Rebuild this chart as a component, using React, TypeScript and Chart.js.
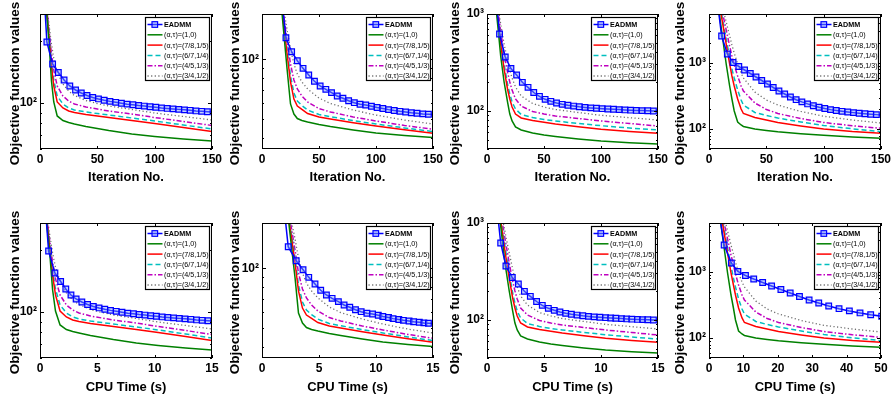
import React, { useEffect, useRef } from "react";
import { Chart, registerables } from "chart.js";

Chart.register(...registerables);

const FONT = "'Liberation Sans', Arial, Helvetica, sans-serif";
Chart.defaults.font.family = FONT;

// ---------------- data ----------------
// EADMM iteration grid (marker positions)
const ITER_E = [1, 6, 11, 16, 21, 26, 31, 36, 41, 46, 51, 56, 61, 66, 71, 76, 81, 86, 91, 96, 101, 106, 111, 116, 121, 126, 131, 136, 141, 146, 150];

// Column A
const A_ITER = [3, 6, 8, 10, 12, 15, 20, 25, 30, 40, 50, 60, 80, 100, 125, 150];
const A_TIME = [0.3, 0.6, 0.85, 1.1, 1.35, 1.75, 2.3, 2.85, 3.4, 4.4, 5.4, 6.4, 8.4, 10.3, 12.7, 15.0];
const A_TIME_E = [0.1, 0.75, 1.3, 1.8, 2.25, 2.7, 3.15, 3.65, 4.15, 4.65, 5.15, 5.65, 6.15, 6.65, 7.15, 7.65, 8.15, 8.65, 9.15, 9.65, 10.15, 10.65, 11.15, 11.65, 12.15, 12.65, 13.15, 13.65, 14.15, 14.65, 15.0];
const A_EADMM = [600, 197.6, 154.7, 140.7, 129.4, 121.1, 115.8, 112.0, 108.9, 106.5, 104.8, 103.3, 102.0, 100.9, 99.9, 98.9, 98.2, 97.4, 96.8, 96.1, 95.5, 94.8, 94.3, 93.8, 93.3, 92.8, 92.3, 91.7, 91.3, 90.9, 90.6];
const A_G = [471, 264, 193, 128, 101.3, 86.7, 82.4, 80.6, 79.3, 77.1, 75.4, 73.7, 70.9, 69.0, 67.1, 65.6];
const A_R = [471, 270, 204, 151, 121.1, 101.3, 94.8, 91.6, 90.1, 88.1, 86.7, 85.2, 82.4, 79.7, 76.3, 72.9];
const A_C = [471, 276, 211, 158, 129.4, 108.3, 99.1, 94.8, 92.7, 90.6, 89.1, 87.6, 84.8, 82.0, 78.4, 75.0];
const A_M = [471, 285, 221, 173, 145, 121.1, 108.3, 102.4, 99.1, 95.8, 93.7, 91.6, 88.6, 85.2, 81.5, 78.0];
const A_K = [471, 295, 236, 193, 165, 141.5, 123.8, 114.5, 108.9, 103.0, 99.6, 96.9, 93.2, 89.6, 86.2, 82.9];

// Column B
const B_ITER = [15, 18, 20, 22, 25, 28, 31, 35, 40, 50, 60, 80, 100, 125, 150];
const B_TIME = [2.0, 2.4, 2.65, 2.9, 3.2, 3.55, 3.9, 4.35, 4.9, 5.9, 6.9, 8.8, 10.6, 12.8, 15.0];
const B_TIME_E = [0.1, 0.7, 1.3, 1.8, 2.3, 3.0, 3.6, 4.1, 4.65, 5.15, 5.65, 6.15, 6.7, 7.2, 7.7, 8.2, 8.7, 9.2, 9.7, 10.2, 10.6, 11.1, 11.5, 12.0, 12.4, 12.9, 13.3, 13.8, 14.2, 14.6, 15.0];
const B_EADMM = [1000, 800, 500, 241.5, 128.8, 109.3, 98.4, 90.0, 83.2, 77.4, 73.2, 70.4, 67.7, 65.1, 63.4, 61.6, 60.2, 59.1, 58.6, 57.7, 56.9, 56.2, 55.5, 54.9, 54.4, 54.0, 53.5, 53.2, 52.8, 52.6, 52.4];
const B_G = [271.5, 160.3, 119.6, 89.3, 59.3, 52.7, 50.0, 48.9, 48.0, 46.6, 45.5, 43.7, 42.2, 41.0, 40.0];
const B_R = [271.5, 170, 134.5, 106.4, 76.7, 62.8, 57.9, 55.6, 53.0, 50.9, 49.7, 47.6, 45.8, 43.9, 42.1];
const B_C = [271.5, 176.1, 141.0, 112.8, 82.3, 67.4, 61.4, 58.2, 55.2, 52.4, 51.1, 48.8, 46.9, 44.8, 42.9];
const B_M = [271.5, 186.7, 151.2, 123.9, 94.7, 78.5, 70.7, 65.1, 60.7, 56.2, 54.0, 50.9, 48.6, 46.1, 44.1];
const B_K = [271.5, 195.6, 166.1, 141.0, 112.8, 94.7, 84.2, 76.7, 70.7, 63.6, 59.6, 55.2, 52.1, 49.1, 46.9];

// Column C
const C_ITER = [5, 8, 10, 12, 15, 18, 20, 22, 25, 30, 40, 50, 60, 80, 100, 125, 150];
const C_TIME = [0.75, 1.12, 1.35, 1.6, 1.95, 2.25, 2.45, 2.65, 2.95, 3.55, 4.6, 5.6, 6.6, 8.5, 10.4, 12.7, 15.0];
const C_TIME_E = [0.1, 0.65, 1.2, 1.66, 2.22, 2.75, 3.28, 3.8, 4.35, 4.85, 5.38, 5.9, 6.4, 6.9, 7.4, 7.9, 8.4, 8.9, 9.4, 9.9, 10.4, 10.85, 11.3, 11.8, 12.25, 12.7, 13.2, 13.65, 14.1, 14.6, 15.0];
const C_EADMM = [3000, 2596, 620.7, 358.7, 272.7, 233.5, 196.2, 174.1, 153.8, 140.5, 130.8, 124.7, 119.8, 116.1, 113.4, 111.3, 109.4, 107.9, 106.6, 105.6, 104.6, 103.8, 103.1, 102.3, 101.6, 100.9, 100.4, 99.9, 99.5, 99.0, 98.8];
const C_G = [4181, 1127, 651.0, 367.3, 197.6, 122.7, 92.1, 78.0, 67.6, 62.9, 58.6, 55.8, 53.9, 50.8, 48.4, 46.5, 45.1];
const C_R = [4181, 1269, 787.9, 489.1, 269.4, 167.3, 131.8, 108.9, 92.1, 83.8, 78.9, 75.6, 72.6, 68.1, 64.0, 60.7, 58.1];
const C_C = [4181, 1363, 866.7, 551.0, 303.6, 188.4, 148.5, 122.7, 103.8, 91.0, 84.8, 80.8, 78.0, 73.5, 69.7, 66.0, 62.9];
const C_M = [4181, 1536, 1000, 666.8, 385.3, 250.8, 197.6, 163.3, 131.8, 111.5, 97.8, 92.1, 87.8, 82.8, 78.0, 73.5, 69.2];
const C_K = [4181, 1690, 1127, 787.9, 489.1, 333.9, 263.1, 217.4, 175.4, 141.5, 118.4, 108.9, 102.6, 95.5, 89.3, 84.4, 79.9];

// Column D
const D_ITER = [5, 9, 12, 15, 18, 20, 22, 25, 28, 30, 40, 50, 60, 80, 100, 125, 150];
const D_TIME = [1.8, 3.4, 4.4, 5.4, 6.4, 7.1, 7.7, 8.6, 9.6, 10.3, 13.6, 16.9, 20.2, 26.8, 33.4, 41.7, 50.0];
const D_TIME_E = [0.4, 2.3, 4.4, 6.5, 8.4, 10.6, 13.0, 15.6, 18.2, 20.9, 23.6, 26.3, 29.1, 31.9, 34.8, 37.8, 40.8, 43.9, 47.0, 50.2, 53.4, 56.6, 59.8, 63.0, 66.2, 69.4, 72.6, 75.8, 79.0, 82.2, 84.8];
const D_EADMM = [40000, 13135, 2557, 1366, 1016, 884, 782.4, 692.8, 613.4, 543.1, 480.8, 425.7, 376.9, 339.5, 305.8, 278.4, 257.8, 240.3, 225.7, 214.2, 204.7, 197.0, 190.9, 185.6, 181.2, 177.4, 173.8, 170.8, 167.9, 165.5, 163.8];
const D_G = [89000, 5500, 2303, 964.9, 448.3, 285.1, 187.8, 128.0, 115.3, 109.5, 100.3, 95.2, 91.0, 84.9, 80.6, 75.9, 72.5];
const D_R = [89000, 7791, 3883, 1935, 964.9, 635.0, 448.3, 285.1, 201.5, 172.2, 149.8, 137.3, 125.8, 111.4, 100.3, 92.0, 86.4];
const D_C = [89000, 8353, 4463, 2303, 1231, 810.3, 592.3, 389.9, 275.4, 231.6, 178.3, 160.6, 147.2, 128.0, 113.3, 101.0, 91.4];
const D_M = [89000, 9601, 5500, 3151, 1805, 1274, 931.8, 635.0, 448.3, 376.9, 248.3, 198.1, 172.2, 144.7, 125.8, 112.2, 102.8];
const D_K = [89000, 11035, 6778, 4163, 2557, 1869, 1415, 964.9, 705.0, 592.3, 363.8, 275.4, 231.6, 184.6, 156.2, 137.3, 123.6];

const SERIES_LABELS = ["EADMM", "(α,τ)=(1,0)", "(α,τ)=(7/8,1/5)", "(α,τ)=(6/7,1/4)", "(α,τ)=(4/5,1/3)", "(α,τ)=(3/4,1/2)"];
const SERIES_COLORS = ["#0000ff", "#008000", "#ff0000", "#00bfbf", "#bf00bf", "#6e6e6e"];
const SERIES_DASH: number[][] = [[], [], [], [5, 3], [5, 2, 1.5, 2], [1.2, 2.4]];

const Y_MIN = [60, 35, 40, 50];
const Y_MAX = [270, 170, 1000, 5500];
const Y_DECADES = [100, 1000];
const X_MAX_ITER = 150;
const X_STEP_ITER = 50;
const X_MAX_TIME = [15, 15, 15, 50];
const X_STEP_TIME = [5, 5, 5, 10];

type PanelData = { iter: number[]; time: number[]; timeE: number[]; e: number[]; s: number[][] };
const PANELS: PanelData[] = [
  { iter: A_ITER, time: A_TIME, timeE: A_TIME_E, e: A_EADMM, s: [A_G, A_R, A_C, A_M, A_K] },
  { iter: B_ITER, time: B_TIME, timeE: B_TIME_E, e: B_EADMM, s: [B_G, B_R, B_C, B_M, B_K] },
  { iter: C_ITER, time: C_TIME, timeE: C_TIME_E, e: C_EADMM, s: [C_G, C_R, C_C, C_M, C_K] },
  { iter: D_ITER, time: D_TIME, timeE: D_TIME_E, e: D_EADMM, s: [D_G, D_R, D_C, D_M, D_K] },
];

// ---------------- layout ----------------
const PLOT_LEFT = [40, 262, 487, 709];
const PLOT_RIGHT = [212, 433, 658, 881];
const YTITLE_OFF = [25, 27, 32, 29];
const Y_AXIS_W = 40;
const RIGHT_PAD = 13;

function decorPlugin(col: number, row: number) {
  return {
    id: "matlabDecor",
    afterDatasetsDraw(chart: any) {
      const { ctx, chartArea: a, scales } = chart;
      const x = scales.x;
      const y = scales.y;
      ctx.save();
      ctx.setLineDash([]);
      ctx.strokeStyle = "#000";
      ctx.lineWidth = 1;
      ctx.beginPath();
      for (const t of x.ticks) {
        const px = Math.round(x.getPixelForValue(t.value)) + 0.5;
        ctx.moveTo(px, a.bottom);
        ctx.lineTo(px, a.bottom - 3);
        ctx.moveTo(px, a.top);
        ctx.lineTo(px, a.top + 3);
      }
      for (let d = 1; d <= 1e5; d *= 10) {
        for (let k = 1; k <= 9; k++) {
          const v = d * k;
          if (v < y.min || v > y.max) continue;
          const py = Math.round(y.getPixelForValue(v)) + 0.5;
          const L = k === 1 ? 4 : 2;
          ctx.moveTo(a.left, py);
          ctx.lineTo(a.left + L, py);
          ctx.moveTo(a.right, py);
          ctx.lineTo(a.right - L, py);
        }
      }
      ctx.stroke();
      ctx.strokeRect(Math.round(a.left) + 0.5, Math.round(a.top) + 0.5, Math.round(a.right - a.left) - 1, Math.round(a.bottom - a.top) - 1);

      // legend
      const bw = 64;
      const bh = 63;
      const bx = Math.round(a.right) - 3 - bw;
      const by = Math.round(a.top) + 3;
      ctx.fillStyle = "#fff";
      ctx.fillRect(bx, by, bw, bh);
      ctx.lineWidth = 1.2;
      ctx.strokeStyle = "#000";
      ctx.strokeRect(bx + 0.5, by + 0.5, bw, bh);
      chart.data.datasets.forEach((ds: any, i: number) => {
        const cy = by + 7.5 + i * 10.3;
        ctx.save();
        ctx.strokeStyle = ds.borderColor;
        ctx.lineWidth = ds.borderWidth;
        ctx.setLineDash(ds.borderDash || []);
        ctx.beginPath();
        ctx.moveTo(bx + 2.5, cy);
        ctx.lineTo(bx + 17.5, cy);
        ctx.stroke();
        ctx.setLineDash([]);
        if (i === 0) {
          ctx.fillStyle = ds.pointBackgroundColor;
          ctx.fillRect(bx + 7, cy - 2.8, 5.6, 5.6);
          ctx.lineWidth = 1.2;
          ctx.strokeStyle = ds.pointBorderColor;
          ctx.strokeRect(bx + 7, cy - 2.8, 5.6, 5.6);
        }
        ctx.fillStyle = "#000";
        ctx.font = `${i === 0 ? "bold " : ""}7.2px ${FONT}`;
        ctx.textAlign = "left";
        ctx.textBaseline = "middle";
        ctx.fillText(ds.label, bx + 19, cy + 0.5);
        ctx.restore();
      });

      // axis titles
      ctx.fillStyle = "#000";
      ctx.textAlign = "center";
      ctx.textBaseline = "middle";
      ctx.font = `bold 13px ${FONT}`;
      ctx.fillText(row === 0 ? "Iteration No." : "CPU Time (s)", (a.left + a.right) / 2, a.bottom + (row === 0 ? 28 : 29.5));
      ctx.translate(a.left - YTITLE_OFF[col], (a.top + a.bottom) / 2 + 2);
      ctx.rotate(-Math.PI / 2);
      ctx.font = `bold 13.5px ${FONT}`;
      ctx.fillText("Objective function values", 0, 0);
      ctx.restore();
    },
  };
}

function Panel({ col, row }: { col: number; row: number }) {
  const ref = useRef<HTMLCanvasElement>(null);
  const left = PLOT_LEFT[col] - Y_AXIS_W;
  const width = PLOT_RIGHT[col] - left + RIGHT_PAD;
  const top = row === 0 ? 0 : 200;
  const height = row === 0 ? 200 : 201;
  const padTop = row === 0 ? 14 : 23;
  const xAxisH = row === 0 ? 51 : 43;

  useEffect(() => {
    if (!ref.current) return;
    const P = PANELS[col];
    const xs = row === 0 ? P.iter : P.time;
    const xe = row === 0 ? ITER_E : P.timeE;
    const lastE = xe.length - 1;
    const datasets: any[] = [
      {
        label: SERIES_LABELS[0],
        data: xe.map((x, i) => ({ x, y: P.e[i] })),
        borderColor: SERIES_COLORS[0],
        borderWidth: 1.5,
        borderDash: SERIES_DASH[0],
        pointStyle: "rect",
        pointRadius: (c: any) => (c.dataIndex === lastE ? 0 : 4),
        pointBorderColor: "#0000ff",
        pointBackgroundColor: "rgba(120,150,255,0.45)",
        pointBorderWidth: 1.2,
      },
    ];
    P.s.forEach((ys, k) => {
      datasets.push({
        label: SERIES_LABELS[k + 1],
        data: xs.map((x, i) => ({ x, y: ys[i] })),
        borderColor: SERIES_COLORS[k + 1],
        borderWidth: k === 4 ? 1.3 : 1.5,
        borderDash: SERIES_DASH[k + 1],
        pointRadius: 0,
      });
    });
    const xMax = row === 0 ? X_MAX_ITER : X_MAX_TIME[col];
    const xStep = row === 0 ? X_STEP_ITER : X_STEP_TIME[col];
    const tickFont = { size: 12, weight: "bold" as const, family: FONT };
    const chart = new Chart(ref.current, {
      type: "line",
      data: { datasets },
      plugins: [decorPlugin(col, row)],
      options: {
        animation: false,
        responsive: false,
        devicePixelRatio: 1,
        events: [],
        layout: { padding: { top: padTop, right: RIGHT_PAD, left: 0, bottom: 0 } },
        elements: { line: { tension: 0, fill: false } },
        plugins: { legend: { display: false }, tooltip: { enabled: false }, title: { display: false } },
        scales: {
          x: {
            type: "linear",
            min: 0,
            max: xMax,
            grid: { display: false, drawTicks: false },
            border: { display: false },
            ticks: { stepSize: xStep, font: tickFont, color: "#000", padding: 3, maxRotation: 0, autoSkip: false },
            afterFit: (s: any) => {
              s.height = xAxisH;
            },
          },
          y: {
            type: "logarithmic",
            min: Y_MIN[col],
            max: Y_MAX[col],
            bounds: "data",
            grid: { display: false, drawTicks: false },
            border: { display: false },
            ticks: {
              font: tickFont,
              color: "#000",
              padding: 3,
              autoSkip: false,
              callback: (v: any) => (v === 100 ? "10²" : v === 1000 ? "10³" : ""),
            },
            afterBuildTicks: (s: any) => {
              s.ticks = Y_DECADES.filter((v) => v >= s.min && v <= s.max).map((v) => ({ value: v }));
            },
            afterFit: (s: any) => {
              s.width = Y_AXIS_W;
            },
          },
        },
      } as any,
    });
    return () => chart.destroy();
  }, [col, row]);

  return (
    <canvas
      ref={ref}
      width={width}
      height={height}
      style={{ position: "absolute", left, top, width, height }}
    />
  );
}

export default function App() {
  const cells: React.ReactNode[] = [];
  for (let row = 0; row < 2; row++) {
    for (let col = 0; col < 4; col++) {
      cells.push(<Panel key={`${row}-${col}`} col={col} row={row} />);
    }
  }
  return (
    <div
      style={{
        position: "fixed",
        left: 0,
        top: 0,
        width: 893,
        height: 401,
        background: "#fff",
        overflow: "hidden",
      }}
    >
      {cells}
    </div>
  );
}
